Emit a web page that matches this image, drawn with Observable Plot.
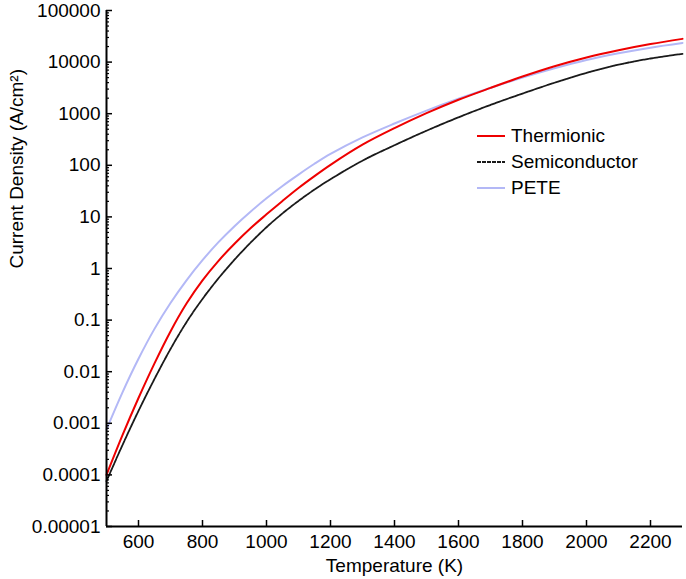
<!DOCTYPE html>
<html>
<head>
<meta charset="utf-8">
<script src="https://cdn.jsdelivr.net/npm/d3@7"></script>
<script src="https://cdn.jsdelivr.net/npm/@observablehq/plot@0.6"></script>
<style>
  body { margin: 0; background: #fff; }
  #wrap { position: relative; width: 686px; height: 579px; font-family: "Liberation Sans", Arial, Helvetica, sans-serif; }
  #legend { position: absolute; left: 477px; top: 123px; font-size: 19px; color: #000; }
  .row { display: flex; align-items: center; height: 26px; }
  .row svg { margin-right: 6px; }
</style>
</head>
<body>
<div id="wrap"><div id="legend"></div></div>
<script>
// Temperature (K)
const temps = [500,550,600,650,700,750,800,850,900,950,1000,1050,1100,1150,1200,1300,1400,1500,1600,1700,1800,1900,2000,2100,2200,2300];
// Current density (A/cm^2)
const thermionic = [1.0e-4,5.89e-4,3.09e-3,0.0145,0.0603,0.209,0.589,1.41,3.02,6.03,11.2,20.4,36.3,61.7,102,251,525,1023,1862,3162,5248,8318,12303,16982,22387,28184];
const semiconductor = [7.59e-5,3.80e-4,1.74e-3,7.24e-3,0.0275,0.0912,0.257,0.646,1.48,3.16,6.31,11.7,20.4,33.9,53.7,123,245,468,851,1479,2455,3981,6166,8913,11749,14454];
const pete = [7.59e-4,3.98e-3,0.0178,0.0676,0.214,0.589,1.45,3.24,6.61,12.6,22.9,39.8,66.1,107,166,347,646,1148,1950,3162,5012,7586,10965,14791,19055,23442];

const seriesNames = ["Thermionic","Semiconductor","PETE"];
const seriesColors = ["#ee0000","#1a1a1a","#b3b8f6"];
const seriesDash = [null,"4,1",null];

const xTicks = [600,800,1000,1200,1400,1600,1800,2000,2200];
const yMajor = [1e-5,1e-4,1e-3,1e-2,1e-1,1,10,100,1000,10000,100000];
const yTickLabels = ["0.00001","0.0001","0.001","0.01","0.1","1","10","100","1000","10000","100000"];
const yMinor = [];
for (const d of yMajor.slice(0,-1)) for (let k = 2; k <= 9; k++) yMinor.push(+(d*k).toPrecision(3));

const xDomain = [500, 2300];
const yDomain = [1e-5, 1e5];

function rows(vals, name) { return temps.map((t,i) => ({T: t, J: vals[i], s: name})); }
const dPete = rows(pete, "PETE");
const dSemi = rows(semiconductor, "Semiconductor");
const dTherm = rows(thermionic, "Thermionic");

const font = '"Liberation Sans", Arial, Helvetica, sans-serif';

const chart = Plot.plot({
  width: 686, height: 579,
  marginLeft: 106, marginRight: 4, marginTop: 10, marginBottom: 53,
  style: {fontFamily: font, fontSize: "19px", color: "#000", background: "#fff", overflow: "visible"},
  x: {domain: xDomain},
  y: {type: "log", domain: yDomain},
  marks: [
    Plot.line(dPete, {x: "T", y: "J", stroke: seriesColors[2], strokeWidth: 2, curve: "catmull-rom"}),
    Plot.line(dSemi, {x: "T", y: "J", stroke: seriesColors[1], strokeWidth: 1.8, strokeDasharray: seriesDash[1], curve: "catmull-rom"}),
    Plot.line(dTherm, {x: "T", y: "J", stroke: seriesColors[0], strokeWidth: 2, curve: "catmull-rom"}),
    Plot.axisX({ticks: xTicks, tickSize: -6, tickPadding: 14, label: null, tickFormat: d => String(d), strokeWidth: 1.5}),
    Plot.axisY({ticks: yMajor, tickSize: -6, tickPadding: 12, label: null, tickFormat: d => yTickLabels[yMajor.indexOf(d)], strokeWidth: 1.5}),
    Plot.axisY({ticks: yMinor, tickSize: -3, tickPadding: 0, label: null, tickFormat: () => "", strokeWidth: 1.2}),
    Plot.ruleX([xDomain[0]], {stroke: "#000", strokeWidth: 2}),
    Plot.ruleY([yDomain[0]], {stroke: "#000", strokeWidth: 2}),
    Plot.text(["Temperature (K)"], {text: d => d, frameAnchor: "bottom", dy: 45, fontSize: 19, fill: "#000"}),
    Plot.text(["Current Density (A/cm²)"], {text: d => d, frameAnchor: "left", rotate: -90, dx: -90, fontSize: 19, fill: "#000"})
  ]
});
const wrap = document.getElementById("wrap");
wrap.insertBefore(chart, wrap.firstChild);

const legend = document.getElementById("legend");
seriesNames.forEach((name, i) => {
  const row = document.createElement("div");
  row.className = "row";
  const dash = seriesDash[i] ? ` stroke-dasharray="${seriesDash[i]}"` : "";
  row.innerHTML = `<svg width="28" height="4"><line x1="0" x2="28" y1="2" y2="2" stroke="${seriesColors[i]}" stroke-width="2"${dash}/></svg><span>${name}</span>`;
  legend.appendChild(row);
});
</script>
</body>
</html>
